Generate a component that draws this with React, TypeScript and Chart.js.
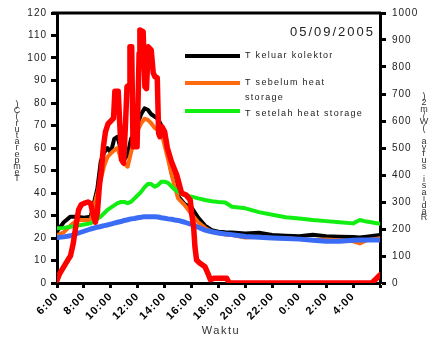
import React, { useEffect, useRef } from 'react';
import { Chart, registerables } from 'chart.js';

Chart.register(...registerables);

// Temperature readings (°C), sampled by hour of day (values past 24 belong to the next morning)
const tempHours = [
  6, 6.5, 7, 7.5, 8, 8.5, 9, 9.25, 9.5, 9.75, 10, 10.25, 10.5, 10.75, 11, 11.25, 11.5, 11.75,
  12, 12.25, 12.5, 12.75, 13, 13.25, 13.5, 13.75, 14, 14.25, 14.5, 14.75, 15, 15.5, 16, 16.5,
  17, 17.5, 18, 18.5, 19, 20, 21, 22, 23, 24, 25, 26, 27, 28, 28.5, 29, 30,
];

const tKeluarKolektor = [
  23, 27, 29.5, 29.5, 29, 29.5, 42, 54, 58, 60, 58, 64, 65, 59, 55, 57, 64, 67,
  71, 75, 77.6, 77, 75, 74, 73, 70, 65, 57, 49, 44, 38.5, 35, 33.5, 29,
  25.5, 23.5, 22.8, 22.6, 22.5, 22, 22.3, 21.3, 21, 20.8, 21.4, 20.8, 20.6, 20.4, 20.2, 20.6, 21.3,
];

const tSebelumHeatStorage = [
  21.3, 22.5, 25.5, 28, 28, 28, 40, 46, 52, 56, 57.6, 59, 60, 55, 53, 51.7, 58, 64,
  68, 71, 73, 72.5, 71, 69, 68, 67, 61, 55, 48.7, 42.8, 37.6, 34.5, 30.5, 27,
  24.5, 22.8, 22.1, 21.6, 21.3, 20.2, 20.6, 20, 19.9, 19.5, 19.1, 19.3, 19, 18.5, 17.6, 19, 19.9,
];

const tSetelahHeatStorage = [
  24.3, 24.5, 25, 25.5, 26, 26.5, 28.5, 29.5, 31, 32.5, 33.5, 34.5, 35.5, 36, 36, 35.5, 36.1, 37.5,
  39, 40.5, 42.5, 44, 44, 42.8, 43.5, 45, 45, 44.5, 43, 41.5, 40.5, 39, 38.4, 37.6,
  36.9, 36.3, 36, 35.8, 33.9, 33.2, 31.5, 30.3, 29.2, 28.7, 28, 27.5, 27, 26.5, 28, 27.3, 26.3,
];

const tLingkungan = [
  20.2, 20.5, 21, 22, 23, 24, 24.8, 25.1, 25.5, 25.8, 26.2, 26.6, 27, 27.3, 27.8, 28.1, 28.5, 28.7,
  29, 29.2, 29.5, 29.5, 29.5, 29.4, 29.3, 29, 28.8, 28.5, 28.3, 28, 27.8, 27, 26, 24.8,
  23.5, 22.8, 22.2, 21.8, 21.5, 20.7, 20.3, 20, 19.8, 19.5, 19, 18.6, 18.6, 19, 19.1, 19.1, 19.1,
];

// Solar radiation (W/m2) on the right-hand axis
const radHours = [
  6, 6.2, 6.5, 6.8, 7, 7.2, 7.4, 7.6, 7.8, 8, 8.3, 8.5, 8.7, 8.85, 9, 9.15, 9.3, 9.45, 9.6, 9.8,
  10, 10.2, 10.3, 10.55, 10.65, 10.8, 10.95, 11.1, 11.2, 11.35, 11.42, 11.55, 11.65, 11.95,
  12.1, 12.16, 12.4, 12.53, 12.65, 12.78, 13, 13.15, 13.28, 13.45, 13.55, 13.65, 13.8,
  14, 14.2, 14.5, 14.9, 15.26, 15.6, 15.9, 16, 16.15, 16.25, 16.37, 16.6, 17, 17.2, 17.4,
  17.7, 18.6, 18.8, 29.4, 29.7, 30,
];

const radiasi = [
  10, 35, 60, 85, 100, 145, 210, 270, 290, 295, 300, 295, 250, 225, 260, 360, 420, 505, 560, 590,
  600, 610, 710, 710, 600, 456, 444, 600, 727, 733, 875, 875, 505, 505,
  850, 937, 931, 727, 720, 875, 863, 778, 764, 760, 555, 542, 579,
  560, 500, 450, 400, 333, 326, 307, 259, 209, 134, 85, 74, 60, 37, 12,
  18, 18, 0, 0, 15, 30,
];

const dateLabel = '05/09/2005';
const legendLabels = [['T keluar kolektor'], ['T sebelum heat', 'storage'], ['T setelah heat storage']];
const legendColors = ['#000000', '#ff6a10', '#11ee11'];
const leftTitle = 'Temperatur(C)';
const rightTitle = 'Radiasi surya (W/m2)';
const xTitle = 'Waktu';

const FONT = "'Liberation Sans', Arial, sans-serif";

const toPoints = (xs: number[], ys: number[]) => xs.map((x, i) => ({ x, y: ys[i] }));

const decorations = {
  id: 'decorations',
  beforeDraw(chart: any) {
    chart.ctx.letterSpacing = '1px';
  },
  afterDraw(chart: any) {
    const ctx: CanvasRenderingContext2D = chart.ctx;
    const { left, right, top, bottom } = chart.chartArea;
    ctx.save();

    // top frame line
    ctx.strokeStyle = '#000';
    ctx.lineWidth = 3;
    ctx.beginPath();
    ctx.moveTo(left - 5, top);
    ctx.lineTo(right + 1, top);
    ctx.stroke();

    // date
    ctx.fillStyle = '#222';
    (ctx as any).letterSpacing = '2px';
    ctx.font = `13px ${FONT}`;
    ctx.textAlign = 'right';
    ctx.textBaseline = 'middle';
    ctx.fillText(dateLabel, right - 5, top + 19);

    // legend
    (ctx as any).letterSpacing = '1.3px';
    ctx.font = `9px ${FONT}`;
    ctx.textAlign = 'left';
    const rows = [top + 43, top + 70, top + 98];
    legendLabels.forEach((lines, i) => {
      const y = rows[i];
      ctx.strokeStyle = legendColors[i];
      ctx.lineWidth = 4;
      ctx.beginPath();
      ctx.moveTo(185, y);
      ctx.lineTo(240, y);
      ctx.stroke();
      ctx.fillStyle = '#222';
      lines.forEach((t, j) => ctx.fillText(t, 245, y + (i === 2 ? 3 : 0) + j * 15));
    });

    // stacked axis titles
    ctx.font = `9px ${FONT}`;
    (ctx as any).letterSpacing = '0px';
    ctx.textAlign = 'center';
    ctx.fillStyle = '#333';
    const leftChars = leftTitle.split('');
    leftChars.forEach((c, i) => ctx.fillText(c, 17, 179 - i * 6.2));
    const rightChars = rightTitle.split('');
    rightChars.forEach((c, i) => ctx.fillText(c, 424, 218 - i * 6.4));

    // x title
    (ctx as any).letterSpacing = '1.5px';
    ctx.font = `11px ${FONT}`;
    ctx.fillStyle = '#333';
    ctx.fillText(xTitle, 221, bottom + 48);

    ctx.restore();
  },
};

export default function App() {
  const canvasRef = useRef<HTMLCanvasElement | null>(null);

  useEffect(() => {
    if (!canvasRef.current) return;
    Chart.defaults.font.family = FONT;

    const tickGrid = {
      display: true,
      drawOnChartArea: false,
      drawTicks: true,
      tickLength: 6,
      tickWidth: 3,
      tickColor: '#000',
    };

    const chart = new Chart(canvasRef.current, {
      type: 'line',
      data: {
        datasets: [
          {
            label: 'Radiasi',
            data: toPoints(radHours, radiasi),
            yAxisID: 'y1',
            borderColor: '#ff0000',
            borderWidth: 5.5,
          },
          {
            label: 'T lingkungan',
            data: toPoints(tempHours, tLingkungan),
            yAxisID: 'y',
            borderColor: '#3b6cf5',
            borderWidth: 5,
          },
          {
            label: 'T setelah heat storage',
            data: toPoints(tempHours, tSetelahHeatStorage),
            yAxisID: 'y',
            borderColor: '#11ee11',
            borderWidth: 4,
          },
          {
            label: 'T sebelum heat storage',
            data: toPoints(tempHours, tSebelumHeatStorage),
            yAxisID: 'y',
            borderColor: '#ff6a10',
            borderWidth: 4,
          },
          {
            label: 'T keluar kolektor',
            data: toPoints(tempHours, tKeluarKolektor),
            yAxisID: 'y',
            borderColor: '#000000',
            borderWidth: 4,
          },
        ],
      },
      options: {
        animation: false,
        responsive: false,
        maintainAspectRatio: false,
        layout: { padding: { top: 13, left: 0, right: 0, bottom: 0 } },
        elements: {
          point: { radius: 0 },
          line: { tension: 0, borderJoinStyle: 'round', borderCapStyle: 'round' },
        },
        plugins: {
          legend: { display: false },
          tooltip: { enabled: false },
        },
        scales: {
          x: {
            type: 'linear',
            min: 6,
            max: 30,
            ticks: {
              stepSize: 2,
              autoSkip: false,
              minRotation: 45,
              maxRotation: 45,
              color: '#000',
              padding: 2,
              font: { size: 11, weight: 'bold' },
              callback: (v: any) => (v === 30 ? '' : `${Number(v) % 24}:00`),
            },
            grid: { ...tickGrid, tickLength: 5 },
            border: { display: true, color: '#000', width: 3 },
            afterFit: (s: any) => {
              s.height = 55;
            },
          },
          y: {
            position: 'left',
            min: 0,
            max: 120,
            ticks: {
              stepSize: 10,
              color: '#222',
              padding: 4,
              font: { size: 10 },
              callback: (v: any) => String(v),
            },
            grid: tickGrid,
            border: { display: true, color: '#000', width: 3 },
            afterFit: (s: any) => {
              s.width = 57;
            },
          },
          y1: {
            position: 'right',
            min: 0,
            max: 1000,
            ticks: {
              stepSize: 100,
              color: '#222',
              padding: 6,
              font: { size: 10 },
              callback: (v: any) => String(v),
            },
            grid: tickGrid,
            border: { display: true, color: '#000', width: 3 },
            afterFit: (s: any) => {
              s.width = 52;
            },
          },
        },
      } as any,
      plugins: [decorations],
    });

    return () => chart.destroy();
  }, []);

  return (
    <div style={{ position: 'fixed', left: 0, top: 0, width: 432, height: 338, background: '#fff' }}>
      <canvas ref={canvasRef} width={432} height={338} style={{ display: 'block' }} />
    </div>
  );
}
